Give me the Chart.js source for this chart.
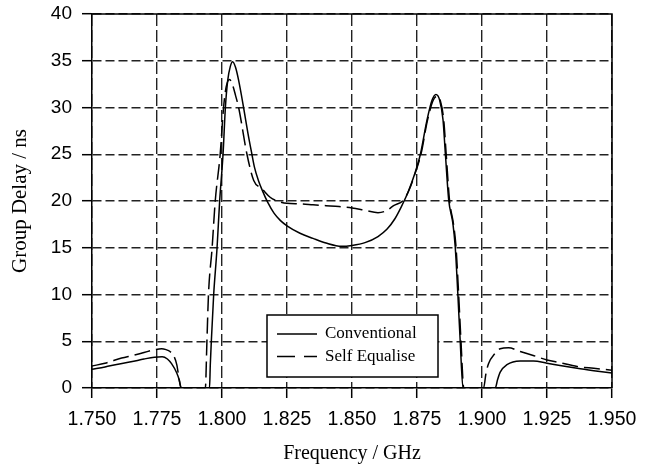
<!DOCTYPE html>
<html><head><meta charset="utf-8">
<script src="https://cdn.jsdelivr.net/npm/chart.js@4.4.1/dist/chart.umd.min.js"></script>
<style>html,body{margin:0;padding:0;background:#fff}#wrap{width:649px;height:467px}</style>
</head><body><div id="wrap"><canvas id="c" width="649" height="467"></canvas></div>
<script>
// ---- data ----
const xTickValues = [1.750, 1.775, 1.800, 1.825, 1.850, 1.875, 1.900, 1.925, 1.950];
const yTickValues = [0, 5, 10, 15, 20, 25, 30, 35, 40];

const seriesNames = ['Conventional', 'Self Equalise'];

const freqConventional = [
  1.750, 1.755, 1.760, 1.765, 1.770, 1.774, 1.777, 1.779, 1.7806, 1.7826, 1.7836, 1.7842,
  1.7952, 1.7955, 1.7959, 1.7968, 1.7981, 1.7991, 1.8004, 1.8013, 1.8022, 1.8032, 1.8041,
  1.8052, 1.8064, 1.8083, 1.8100, 1.8115, 1.8125, 1.8140, 1.8157, 1.8175, 1.820, 1.8225,
  1.825, 1.830, 1.835, 1.840, 1.846, 1.850, 1.855, 1.860, 1.8635, 1.8665, 1.8690, 1.8715,
  1.8740, 1.8763, 1.8788, 1.8808, 1.8823, 1.8837, 1.8850, 1.8859, 1.8872, 1.8888, 1.8897,
  1.8907, 1.8916, 1.8927,
  1.9051, 1.9060, 1.9070, 1.9096, 1.9147, 1.9198, 1.925, 1.930, 1.9366, 1.943, 1.950
];
const delayConventional = [
  2.0, 2.25, 2.55, 2.8, 3.1, 3.3, 3.35, 3.1, 2.6, 1.6, 0.8, 0,
  0, 2.5, 5, 10, 15, 20, 25, 30, 32.9, 34.4, 34.9,
  34.3, 32.9, 30, 27.2, 25, 23.6, 22.2, 21.0, 19.9, 18.7, 17.9,
  17.35, 16.55, 16.0, 15.5, 15.15, 15.25, 15.55, 16.2, 17.0, 18.1, 19.4, 20.9,
  22.8, 25.0, 28.6, 30.8, 31.4, 30.8, 28.7, 25.1, 20.1, 17.6, 15.1,
  10.1, 5.1, 0,
  0, 0.9, 1.7, 2.5, 2.9, 2.9, 2.65, 2.4, 2.1, 1.85, 1.6
];

const freqSelfEqualise = [
  1.750, 1.755, 1.7614, 1.766, 1.770, 1.7742, 1.7768, 1.7785, 1.780, 1.7815, 1.7826, 1.7838, 1.7845,
  1.7936, 1.7942, 1.7948, 1.7962, 1.7974, 1.7993, 1.8006, 1.8016, 1.8029, 1.8042, 1.8052,
  1.8064, 1.8096, 1.8122, 1.8154, 1.8185, 1.8212, 1.825, 1.830, 1.835, 1.840, 1.845, 1.850,
  1.855, 1.860, 1.8635, 1.866, 1.8698, 1.8720, 1.8742, 1.8766, 1.8790, 1.8811, 1.8826,
  1.8840, 1.8853, 1.8862, 1.8875, 1.8891, 1.8900, 1.8910, 1.8919, 1.8930,
  1.9006, 1.9015, 1.9025, 1.9050, 1.9070, 1.9102, 1.9147, 1.920, 1.925, 1.930, 1.9366, 1.943, 1.950
];
const delaySelfEqualise = [
  2.35, 2.65, 3.2, 3.5, 3.8, 4.1, 4.2, 4.1, 3.9, 3.4, 2.5, 0.5, 0,
  0, 5, 10, 15, 20, 25, 30, 32.2, 33.0, 32.3, 31.3,
  30, 25, 22.2, 21.3, 20.4, 20.0, 19.75, 19.7, 19.6, 19.5, 19.4, 19.25,
  19.0, 18.75, 19.0, 19.5, 20.1, 21.2, 22.9, 25.1, 28.6, 30.7, 31.2,
  30.7, 28.6, 25.1, 20.1, 17.4, 15.1, 10.1, 5.1, 0,
  0, 1.5, 2.6, 3.7, 4.2, 4.3, 3.9, 3.45, 3.0, 2.7, 2.3, 2.1, 1.9
];

// ---- chart ----
const toPoints = (xs, ys) => xs.map((x, i) => ({x: x, y: ys[i]}));
const SERIF = "'Liberation Serif', 'Times New Roman', serif";
const SANS = "'Liberation Sans', Arial, sans-serif";

const framePlugin = {
  id: 'frame',
  afterDraw(chart) {
    const {ctx, chartArea: a} = chart;
    ctx.save();
    ctx.strokeStyle = '#000';
    ctx.lineWidth = 1.5;
    ctx.setLineDash([]);
    ctx.beginPath();
    ctx.moveTo(a.left, a.top);
    ctx.lineTo(a.right, a.top);
    ctx.lineTo(a.right, a.bottom);
    ctx.stroke();
    ctx.restore();
  }
};

const legendPlugin = {
  id: 'insideLegend',
  afterDatasetsDraw(chart) {
    const {ctx, chartArea: a} = chart;
    const bx = a.left + 175, by = a.top + 301, bw = 171, bh = 62;
    ctx.save();
    ctx.fillStyle = '#fff';
    ctx.fillRect(bx, by, bw, bh);
    ctx.strokeStyle = '#000';
    ctx.lineWidth = 1.5;
    ctx.setLineDash([]);
    ctx.strokeRect(bx, by, bw, bh);
    ctx.font = "17px " + SERIF;
    ctx.fillStyle = '#000';
    ctx.textBaseline = 'middle';
    chart.data.datasets.forEach((ds, i) => {
      const yy = by + 19 + i * 22.5;
      ctx.beginPath();
      ctx.setLineDash(i === 0 ? [] : [18, 9]);
      ctx.lineWidth = ds.borderWidth;
      ctx.moveTo(bx + 10, yy);
      ctx.lineTo(bx + 50, yy);
      ctx.stroke();
      ctx.setLineDash([]);
      ctx.fillText(ds.label, bx + 58, yy);
    });
    ctx.restore();
  }
};

new Chart(document.getElementById('c'), {
  type: 'line',
  data: {
    datasets: [
      {
        label: seriesNames[0],
        data: toPoints(freqConventional, delayConventional),
        borderColor: '#000', borderWidth: 1.5, borderDash: [],
        pointRadius: 0, fill: false, cubicInterpolationMode: 'monotone'
      },
      {
        label: seriesNames[1],
        data: toPoints(freqSelfEqualise, delaySelfEqualise),
        borderColor: '#000', borderWidth: 1.5, borderDash: [16, 6],
        pointRadius: 0, fill: false, cubicInterpolationMode: 'monotone'
      }
    ]
  },
  options: {
    responsive: false,
    animation: false,
    devicePixelRatio: 1,
    layout: {padding: {top: 14, right: 37, left: 0, bottom: 0}},
    plugins: {legend: {display: false}, tooltip: {enabled: false}},
    scales: {
      x: {
        type: 'linear', min: 1.75, max: 1.95,
        afterBuildTicks: s => { s.ticks = xTickValues.map(v => ({value: v})); },
        afterFit: s => { s.height = 79; s.paddingLeft = 0; s.paddingRight = 0; },
        ticks: {
          callback: v => Number(v).toFixed(3),
          font: {family: SANS, size: 19.5}, color: '#000', padding: 10,
          maxRotation: 0, autoSkip: false
        },
        grid: {color: '#222', lineWidth: 1.4, tickLength: 10, tickColor: '#000', tickWidth: 1.5},
        border: {display: true, color: '#000', width: 1.5, dash: [12, 4]},
        title: {display: true, text: 'Frequency / GHz', color: '#000',
                font: {family: SERIF, size: 20, lineHeight: 1.2}, padding: {top: 1, bottom: 1}}
      },
      y: {
        type: 'linear', min: 0, max: 40,
        afterBuildTicks: s => { s.ticks = yTickValues.map(v => ({value: v})); },
        afterFit: s => { s.width = 92; s.paddingTop = 0; s.paddingBottom = 0; },
        ticks: {
          font: {family: SANS, size: 19}, color: '#000', padding: 10, autoSkip: false
        },
        grid: {color: '#222', lineWidth: 1.4, tickLength: 10, tickColor: '#000', tickWidth: 1.5},
        border: {display: true, color: '#000', width: 1.5, dash: [9, 4]},
        title: {display: true, text: 'Group Delay / ns', color: '#000',
                font: {family: SERIF, size: 21, lineHeight: 1.2}, padding: {top: 8, bottom: 8}}
      }
    }
  },
  plugins: [framePlugin, legendPlugin]
});
</script>
</body></html>
